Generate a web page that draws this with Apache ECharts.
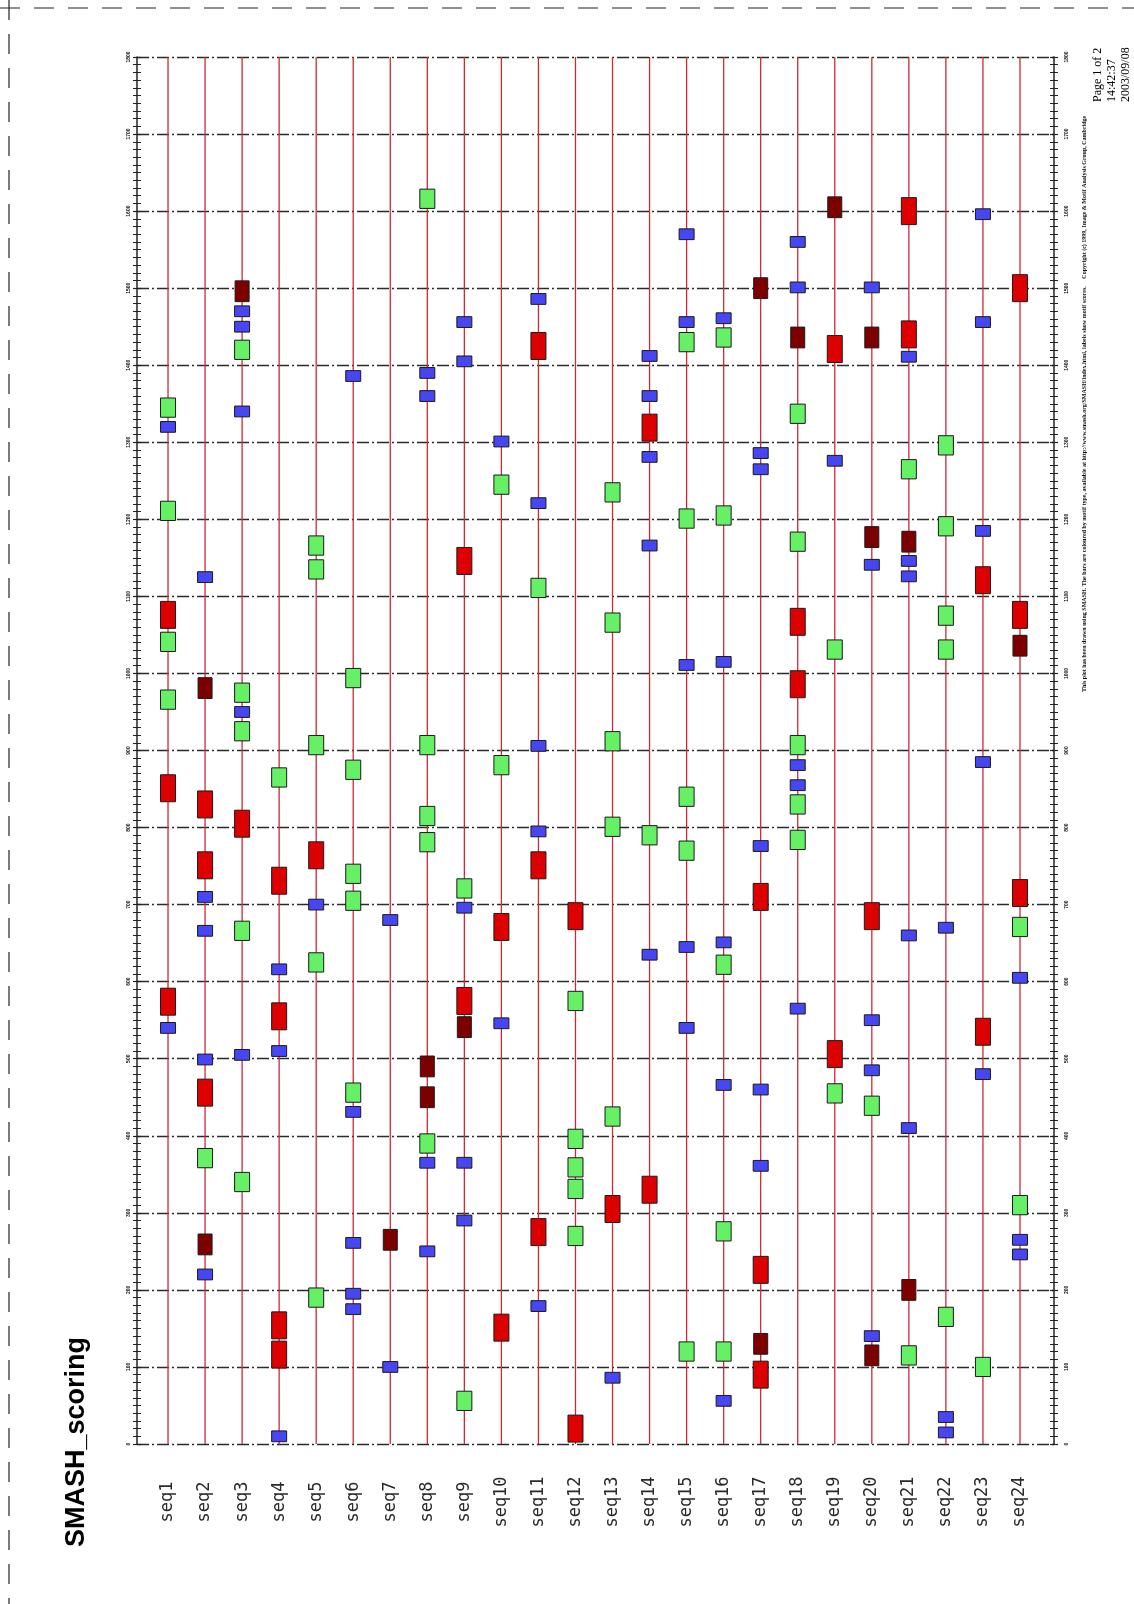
<!DOCTYPE html>
<html><head><meta charset="utf-8">
<script src="https://cdn.jsdelivr.net/npm/echarts@6/dist/echarts.min.js"></script>
<style>html,body{margin:0;padding:0;background:#fff}#c{width:1134px;height:1604px}</style>
</head><body><div id="c"></div>
<script>
const seqNames = ['seq1','seq2','seq3','seq4','seq5','seq6','seq7','seq8','seq9','seq10','seq11','seq12','seq13','seq14','seq15','seq16','seq17','seq18','seq19','seq20','seq21','seq22','seq23','seq24'];
const posMin = 0, posMax = 1800, posStep = 100;
// motif length (residues) per motif type
const motifLen = {blue: 14, green: 25, red: 35, darkred: 27};
// [sequence number, motif centre position]
const blueMotifs = [
 [1,1320],[1,540],
 [2,1125],[2,710],[2,666],[2,499],[2,220],
 [3,1470],[3,1450],[3,1340],[3,950],[3,505],
 [4,616],[4,510],[4,10],
 [5,700],
 [6,1386],[6,431],[6,261],[6,195],[6,175],
 [7,680],[7,100],
 [8,1390],[8,1360],[8,365],[8,250],
 [9,1456],[9,1405],[9,696],[9,365],[9,290],
 [10,1301],[10,546],
 [11,1486],[11,1221],[11,906],[11,795],[11,179],
 [13,86],
 [14,1412],[14,1360],[14,1281],[14,1166],[14,635],
 [15,1570],[15,1456],[15,1011],[15,645],[15,540],
 [16,1461],[16,1015],[16,651],[16,466],[16,56],
 [17,1286],[17,1265],[17,776],[17,460],[17,361],
 [18,1560],[18,1501],[18,881],[18,855],[18,565],
 [19,1276],
 [20,1501],[20,1141],[20,550],[20,485],[20,140],
 [21,1411],[21,1146],[21,1126],[21,660],[21,410],
 [22,670],[22,35],[22,15],
 [23,1596],[23,1456],[23,1185],[23,885],[23,480],
 [24,605],[24,265],[24,246]
];
const greenMotifs = [
 [1,1345],[1,1211],[1,1041],[1,966],
 [2,371],
 [3,1420],[3,975],[3,925],[3,666],[3,340],
 [4,865],
 [5,1166],[5,1135],[5,907],[5,625],[5,190],
 [6,994],[6,875],[6,740],[6,705],[6,456],
 [8,1616],[8,907],[8,815],[8,781],[8,390],
 [9,721],[9,56],
 [10,1245],[10,881],
 [11,1111],
 [12,575],[12,396],[12,359],[12,331],[12,270],
 [13,1235],[13,1066],[13,912],[13,801],[13,425],
 [14,790],
 [15,1430],[15,1201],[15,840],[15,770],[15,120],
 [16,1436],[16,1205],[16,622],[16,276],[16,120],
 [18,1337],[18,1171],[18,907],[18,830],[18,784],
 [19,1031],[19,455],
 [20,439],
 [21,1265],[21,115],
 [22,1296],[22,1191],[22,1075],[22,1031],[22,165],
 [23,100],
 [24,671],[24,310]
];
const redMotifs = [
 [1,1076],[1,851],[1,574],
 [2,830],[2,751],[2,456],
 [3,805],
 [4,731],[4,555],[4,154],[4,116],
 [5,764],
 [9,1146],[9,575],
 [10,671],[10,151],
 [11,1425],[11,751],[11,275],
 [12,685],[12,20],
 [13,305],
 [14,1319],[14,330],
 [17,710],[17,226],[17,90],
 [18,1067],[18,986],
 [19,1421],[19,506],
 [20,685],
 [21,1600],[21,1440],
 [23,1121],[23,535],
 [24,1500],[24,1076],[24,715]
];
const darkredMotifs = [
 [2,981],[2,259],
 [3,1496],
 [7,265],
 [8,490],[8,450],
 [9,541],
 [17,1500],[17,130],
 [18,1436],
 [19,1605],
 [20,1436],[20,1177],[20,115],
 [21,1171],[21,200],
 [24,1036]
];
const titleText = 'SMASH_scoring';
const pageLines = ['Page 1 of 2','14:42:37','2003/09/08'];
const footText = 'This plot has been drawn using SMASH. The bars are coloured by motif type, available at http://www.smash.org/SMASH/index.html, labels show motif scores.     Copyright (c) 1999, Image & Motif Analysis Group, Cambridge';

const colors = {blue:'#4646f2', green:'#66f066', red:'#dd0000', darkred:'#7d0000'};
const boxW = {blue:15, green:15, red:15, darkred:14};

function toRange(list, type){
  return list.map(d => [d[0]-1, d[1]-motifLen[type]/2, d[1]+motifLen[type]/2]);
}
function boxSeries(list, type){
  return {
    type:'custom', xAxisIndex:1, yAxisIndex:4, z:5,
    data: toRange(list, type),
    renderItem: function(params, api){
      const a = api.coord([api.value(0), api.value(1)]);
      const b = api.coord([api.value(0), api.value(2)]);
      const w = boxW[type];
      return {type:'rect', shape:{x:a[0]-w/2, y:b[1], width:w, height:a[1]-b[1]},
        style:{fill:colors[type], stroke:'#1a1a1a', lineWidth:1}};
    }
  };
}

const chart = echarts.init(document.getElementById('c'), null, {renderer:'canvas'});
const yBase = {type:'value', min:posMin, max:posMax, interval:posStep, gridIndex:0};
const plainFmt = v => String(v);
const option = {
  animation:false,
  backgroundColor:'#fff',
  grid:[
    {left:137, right:80, top:57, bottom:160},
    {left:149.5, right:95.5, top:57, bottom:160}
  ],
  xAxis:[
    {type:'value', gridIndex:0, min:0, max:1, show:false},
    {type:'category', gridIndex:1, data:seqNames, boundaryGap:true,
     axisLine:{show:false}, axisTick:{show:false}, splitLine:{show:false},
     axisLabel:{rotate:90, align:'center', verticalAlign:'middle', margin:58,
       fontFamily:'DejaVu Sans Mono', fontSize:17, color:'#2a2a2a'}}
  ],
  yAxis:[
    Object.assign({}, yBase, {position:'left',
      axisLine:{show:true, lineStyle:{color:'#222', width:1.5}},
      axisTick:{show:true, length:4, inside:false, lineStyle:{color:'#222', width:1.2}},
      minorTick:{show:true, splitNumber:10, length:4, lineStyle:{color:'#222', width:1}},
      axisLabel:{show:true, fontSize:5, fontWeight:'bold', rotate:90, margin:6, color:'#111', fontFamily:'Liberation Sans', formatter:plainFmt},
      splitLine:{show:true, lineStyle:{color:'#2a2a2a', width:1.3, type:[12,3,2,3]}}}),
    Object.assign({}, yBase, {position:'left',
      axisLine:{show:false},
      axisTick:{show:true, length:4, inside:true, lineStyle:{color:'#222', width:1.2}},
      minorTick:{show:true, splitNumber:10, length:4, lineStyle:{color:'#222', width:1}},
      axisLabel:{show:false}, splitLine:{show:false}}),
    Object.assign({}, yBase, {position:'right',
      axisLine:{show:true, lineStyle:{color:'#222', width:1.5}},
      axisTick:{show:true, length:4, inside:false, lineStyle:{color:'#222', width:1.2}},
      minorTick:{show:true, splitNumber:10, length:4, lineStyle:{color:'#222', width:1}},
      axisLabel:{show:true, fontSize:5, fontWeight:'bold', rotate:90, margin:10, color:'#111', fontFamily:'Liberation Sans', formatter:plainFmt},
      splitLine:{show:false}}),
    Object.assign({}, yBase, {position:'right',
      axisLine:{show:false},
      axisTick:{show:true, length:4, inside:true, lineStyle:{color:'#222', width:1.2}},
      minorTick:{show:true, splitNumber:10, length:4, lineStyle:{color:'#222', width:1}},
      axisLabel:{show:false}, splitLine:{show:false}}),
    {type:'value', gridIndex:1, min:posMin, max:posMax, show:false}
  ],
  series:[
    {type:'custom', xAxisIndex:1, yAxisIndex:4, z:3,
     data: seqNames.map((s,i)=>[i]),
     renderItem: function(params, api){
       const a = api.coord([api.value(0), posMin]);
       const b = api.coord([api.value(0), posMax]);
       return {type:'line', shape:{x1:a[0], y1:a[1], x2:b[0], y2:b[1]},
         style:{stroke:'#cc2a36', lineWidth:1.3}};
     }},
    boxSeries(blueMotifs,'blue'),
    boxSeries(greenMotifs,'green'),
    boxSeries(redMotifs,'red'),
    boxSeries(darkredMotifs,'darkred')
  ],
  graphic:[
    {type:'line', shape:{x1:0,y1:8,x2:1134,y2:8}, style:{stroke:'#222', lineWidth:1.2, lineDash:[20,14]}},
    {type:'line', shape:{x1:9,y1:0,x2:9,y2:1604}, style:{stroke:'#222', lineWidth:1.2, lineDash:[20,14]}},
    {type:'text', x:77, y:1442, rotation:Math.PI/2,
     style:{text:titleText, font:'bold 27px "Liberation Sans"', fill:'#000', textAlign:'center', textVerticalAlign:'middle'}},
    {type:'text', x:1098, y:102, rotation:Math.PI/2,
     style:{text:pageLines[0], font:'12px "Liberation Serif"', fill:'#000', textAlign:'left', textVerticalAlign:'middle'}},
    {type:'text', x:1112, y:102, rotation:Math.PI/2,
     style:{text:pageLines[1], font:'12px "Liberation Serif"', fill:'#000', textAlign:'left', textVerticalAlign:'middle'}},
    {type:'text', x:1126, y:102, rotation:Math.PI/2,
     style:{text:pageLines[2], font:'12px "Liberation Serif"', fill:'#000', textAlign:'left', textVerticalAlign:'middle'}},
    {type:'text', x:1084, y:692, rotation:Math.PI/2,
     style:{text:footText, font:'bold 6px "Liberation Serif"', fill:'#111', textAlign:'left', textVerticalAlign:'middle'}}
  ]
};
chart.setOption(option);
</script></body></html>
